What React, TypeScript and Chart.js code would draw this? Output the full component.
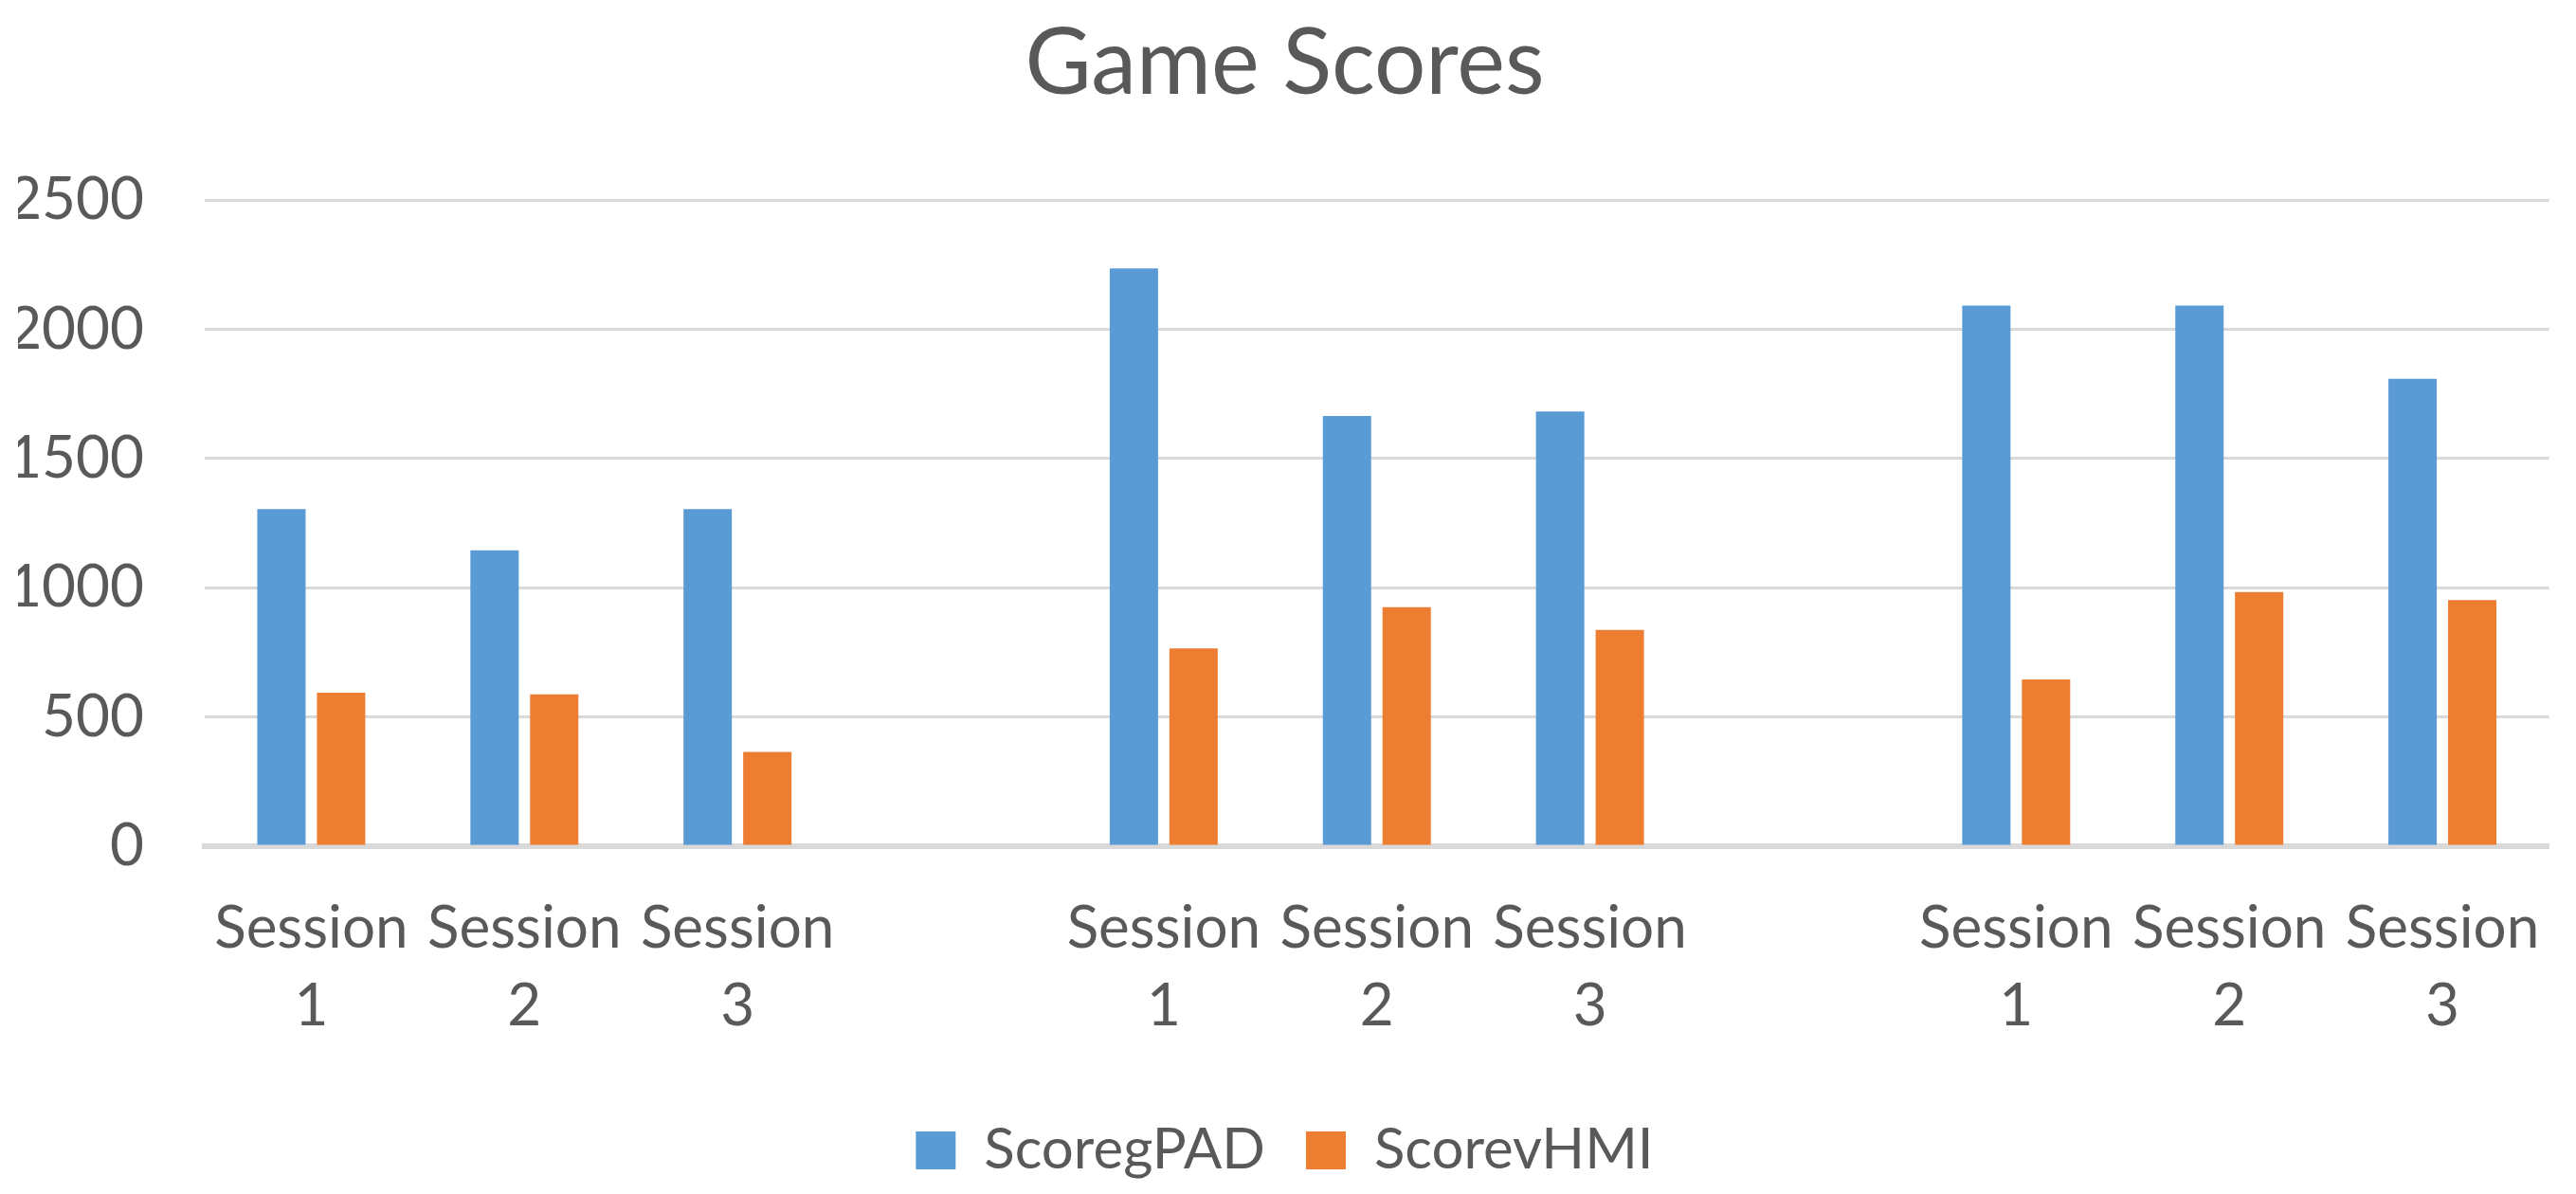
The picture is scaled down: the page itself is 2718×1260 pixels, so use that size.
import React, { useEffect, useRef } from 'react';
import Chart from 'chart.js/auto';

const categories: (string | string[])[] = [
  ['Session', '1'], ['Session', '2'], ['Session', '3'], '',
  ['Session', '1'], ['Session', '2'], ['Session', '3'], '',
  ['Session', '1'], ['Session', '2'], ['Session', '3'],
];
const scoreGPad: (number | null)[] = [1305, 1145, 1305, null, 2236, 1665, 1682, null, 2092, 2092, 1809];
const scoreVHmi: (number | null)[] = [594, 588, 365, null, 766, 925, 837, null, 646, 984, 953];
const yTicks = [0, 500, 1000, 1500, 2000, 2500];

const FONT = 'Lato, "Noto Sans", sans-serif';
const TEXT = '#595959';
const GRID = '#D9D9D9';

const App: React.FC = () => {
  const canvasRef = useRef<HTMLCanvasElement>(null);
  const chartRef = useRef<Chart | null>(null);

  useEffect(() => {
    document.body.style.margin = '0';
    if (!canvasRef.current) return;
    if (chartRef.current) chartRef.current.destroy();

    chartRef.current = new Chart(canvasRef.current, {
      type: 'bar',
      data: {
        labels: categories,
        datasets: [
          {
            label: 'ScoregPAD',
            data: scoreGPad,
            backgroundColor: '#5B9BD5',
            categoryPercentage: 0.56,
            barPercentage: 0.81,
          },
          {
            label: 'ScorevHMI',
            data: scoreVHmi,
            backgroundColor: '#ED7D31',
            categoryPercentage: 0.56,
            barPercentage: 0.81,
          },
        ],
      },
      options: {
        animation: false,
        responsive: true,
        maintainAspectRatio: false,
        layout: { padding: { left: 19, right: 26, top: 0, bottom: 6 } },
        plugins: {
          title: {
            display: true,
            text: 'Game Scores',
            color: TEXT,
            font: { family: FONT, size: 96, weight: 'normal' },
            padding: { top: 10, bottom: 86 },
          },
          legend: {
            position: 'bottom',
            labels: {
              color: TEXT,
              font: { family: FONT, size: 60 },
              boxWidth: 42,
              boxHeight: 40,
              padding: 43,
            },
          },
          tooltip: { enabled: false },
        },
        scales: {
          x: {
            grid: { display: false },
            border: { display: true, color: GRID, width: 6 },
            ticks: {
              color: TEXT,
              font: { family: FONT, size: 62, lineHeight: 1.33 },
              padding: 37.5,
              maxRotation: 0,
              autoSkip: false,
            },
          },
          y: {
            min: 0,
            max: 2500,
            afterBuildTicks: (axis) => {
              axis.ticks = yTicks.map((v) => ({ value: v }));
            },
            // keep the label column the same width as the reference
            afterFit: (axis) => {
              axis.width = 197;
            },
            grid: { color: GRID, lineWidth: 3, drawTicks: false },
            border: { display: false },
            ticks: {
              color: TEXT,
              font: { family: FONT, size: 62 },
              padding: 64,
              callback: (v) => String(v),
            },
          },
        },
      },
    });

    return () => {
      if (chartRef.current) {
        chartRef.current.destroy();
        chartRef.current = null;
      }
    };
  }, []);

  return (
    <div style={{ width: 2718, height: 1260, position: 'relative', background: '#fff' }}>
      <canvas ref={canvasRef}></canvas>
    </div>
  );
};

export default App;
